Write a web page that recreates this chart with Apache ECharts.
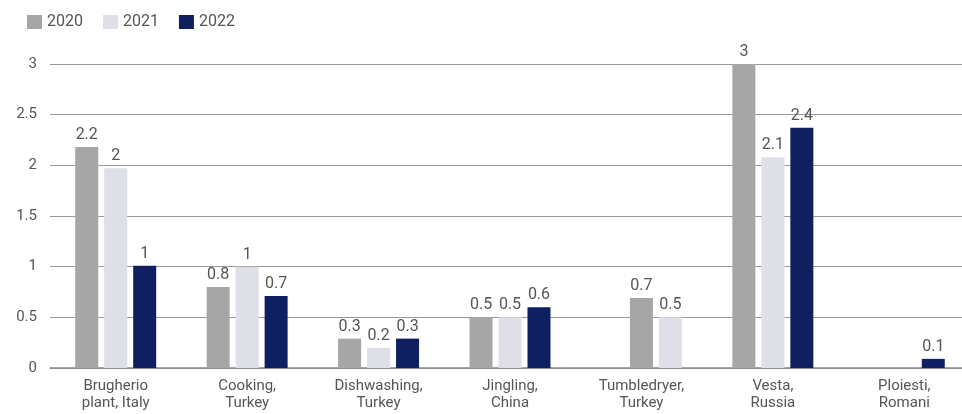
<!DOCTYPE html>
<html><head><meta charset="utf-8">
<script src="https://cdn.jsdelivr.net/npm/echarts@6/dist/echarts.min.js"></script>
<style>html,body{margin:0;padding:0;background:#fff;overflow:hidden}#c{width:970px;height:414px}</style>
</head><body><div id="c"></div>
<script>
const categories = ['Brugherio\nplant, Italy','Cooking,\nTurkey','Dishwashing,\nTurkey','Jingling,\nChina','Tumbledryer,\nTurkey','Vesta,\nRussia','Ploiesti,\nRomani'];
const seriesNames = ['2020','2021','2022'];
const v2020 = [2.18, 0.80, 0.29, 0.50, 0.69, 3.00, null];
const v2021 = [1.97, 1.00, 0.20, 0.50, 0.50, 2.08, null];
const v2022 = [1.01, 0.71, 0.29, 0.60, null, 2.37, 0.09];
const yTicks = [0, 0.5, 1, 1.5, 2, 2.5, 3];
const colors = ['#a6a6a6', '#dfdfe8', '#0f1f5f'];
const font = 'Roboto, "DejaVu Sans", sans-serif';
const years = [v2020, v2021, v2022];

// In the reference, a category lacking a 2022 value but having 2020/2021
// (Tumbledryer) draws its bars in the middle and right slots.
const slots = [[], [], []];
categories.forEach((c, i) => {
  const present = years.map((arr, k) => arr[i] === null ? null : k);
  let assign = [0, 1, 2];
  if (present[2] === null && present[0] !== null && present[1] !== null) assign = [1, 2, null];
  for (let s = 0; s < 3; s++) slots[s][i] = '-';
  years.forEach((arr, k) => {
    if (arr[i] === null) return;
    const s = assign[k];
    slots[s][i] = { value: arr[i], itemStyle: { color: colors[k] } };
  });
});

const chart = echarts.init(document.getElementById('c'));
const mk = (name, data, i) => ({
  name, type: 'bar', data,
  barWidth: 23, barGap: '26%',
  itemStyle: { color: colors[i] },
  label: { show: true, position: 'top', distance: 4, color: '#555', fontSize: 16, fontFamily: font,
    formatter: p => String(+(+p.value).toFixed(1)) }
});
chart.setOption({
  animation: false,
  textStyle: { fontFamily: font },
  legend: { left: 22, top: 9, itemWidth: 15, itemHeight: 14, itemGap: 20, icon: 'rect',
    textStyle: { color: '#555', fontSize: 16, fontFamily: font } },
  grid: { left: 50, right: 0, top: 64, bottom: 46, containLabel: false },
  xAxis: { type: 'category', data: categories,
    axisLine: { lineStyle: { color: '#888', width: 1.5 } }, axisTick: { show: false },
    axisLabel: { color: '#555', fontSize: 15, fontFamily: font, margin: 10, lineHeight: 17, interval: 0 } },
  yAxis: { type: 'value', min: yTicks[0], max: yTicks[yTicks.length-1], interval: 0.5,
    axisLine: { show: false }, axisTick: { show: false },
    splitLine: { lineStyle: { color: '#999', width: 1 } },
    axisLabel: { color: '#555', fontSize: 15, fontFamily: font, margin: 13 } },
  series: [mk(seriesNames[0], slots[0], 0), mk(seriesNames[1], slots[1], 1), mk(seriesNames[2], slots[2], 2)]
});
</script></body></html>
